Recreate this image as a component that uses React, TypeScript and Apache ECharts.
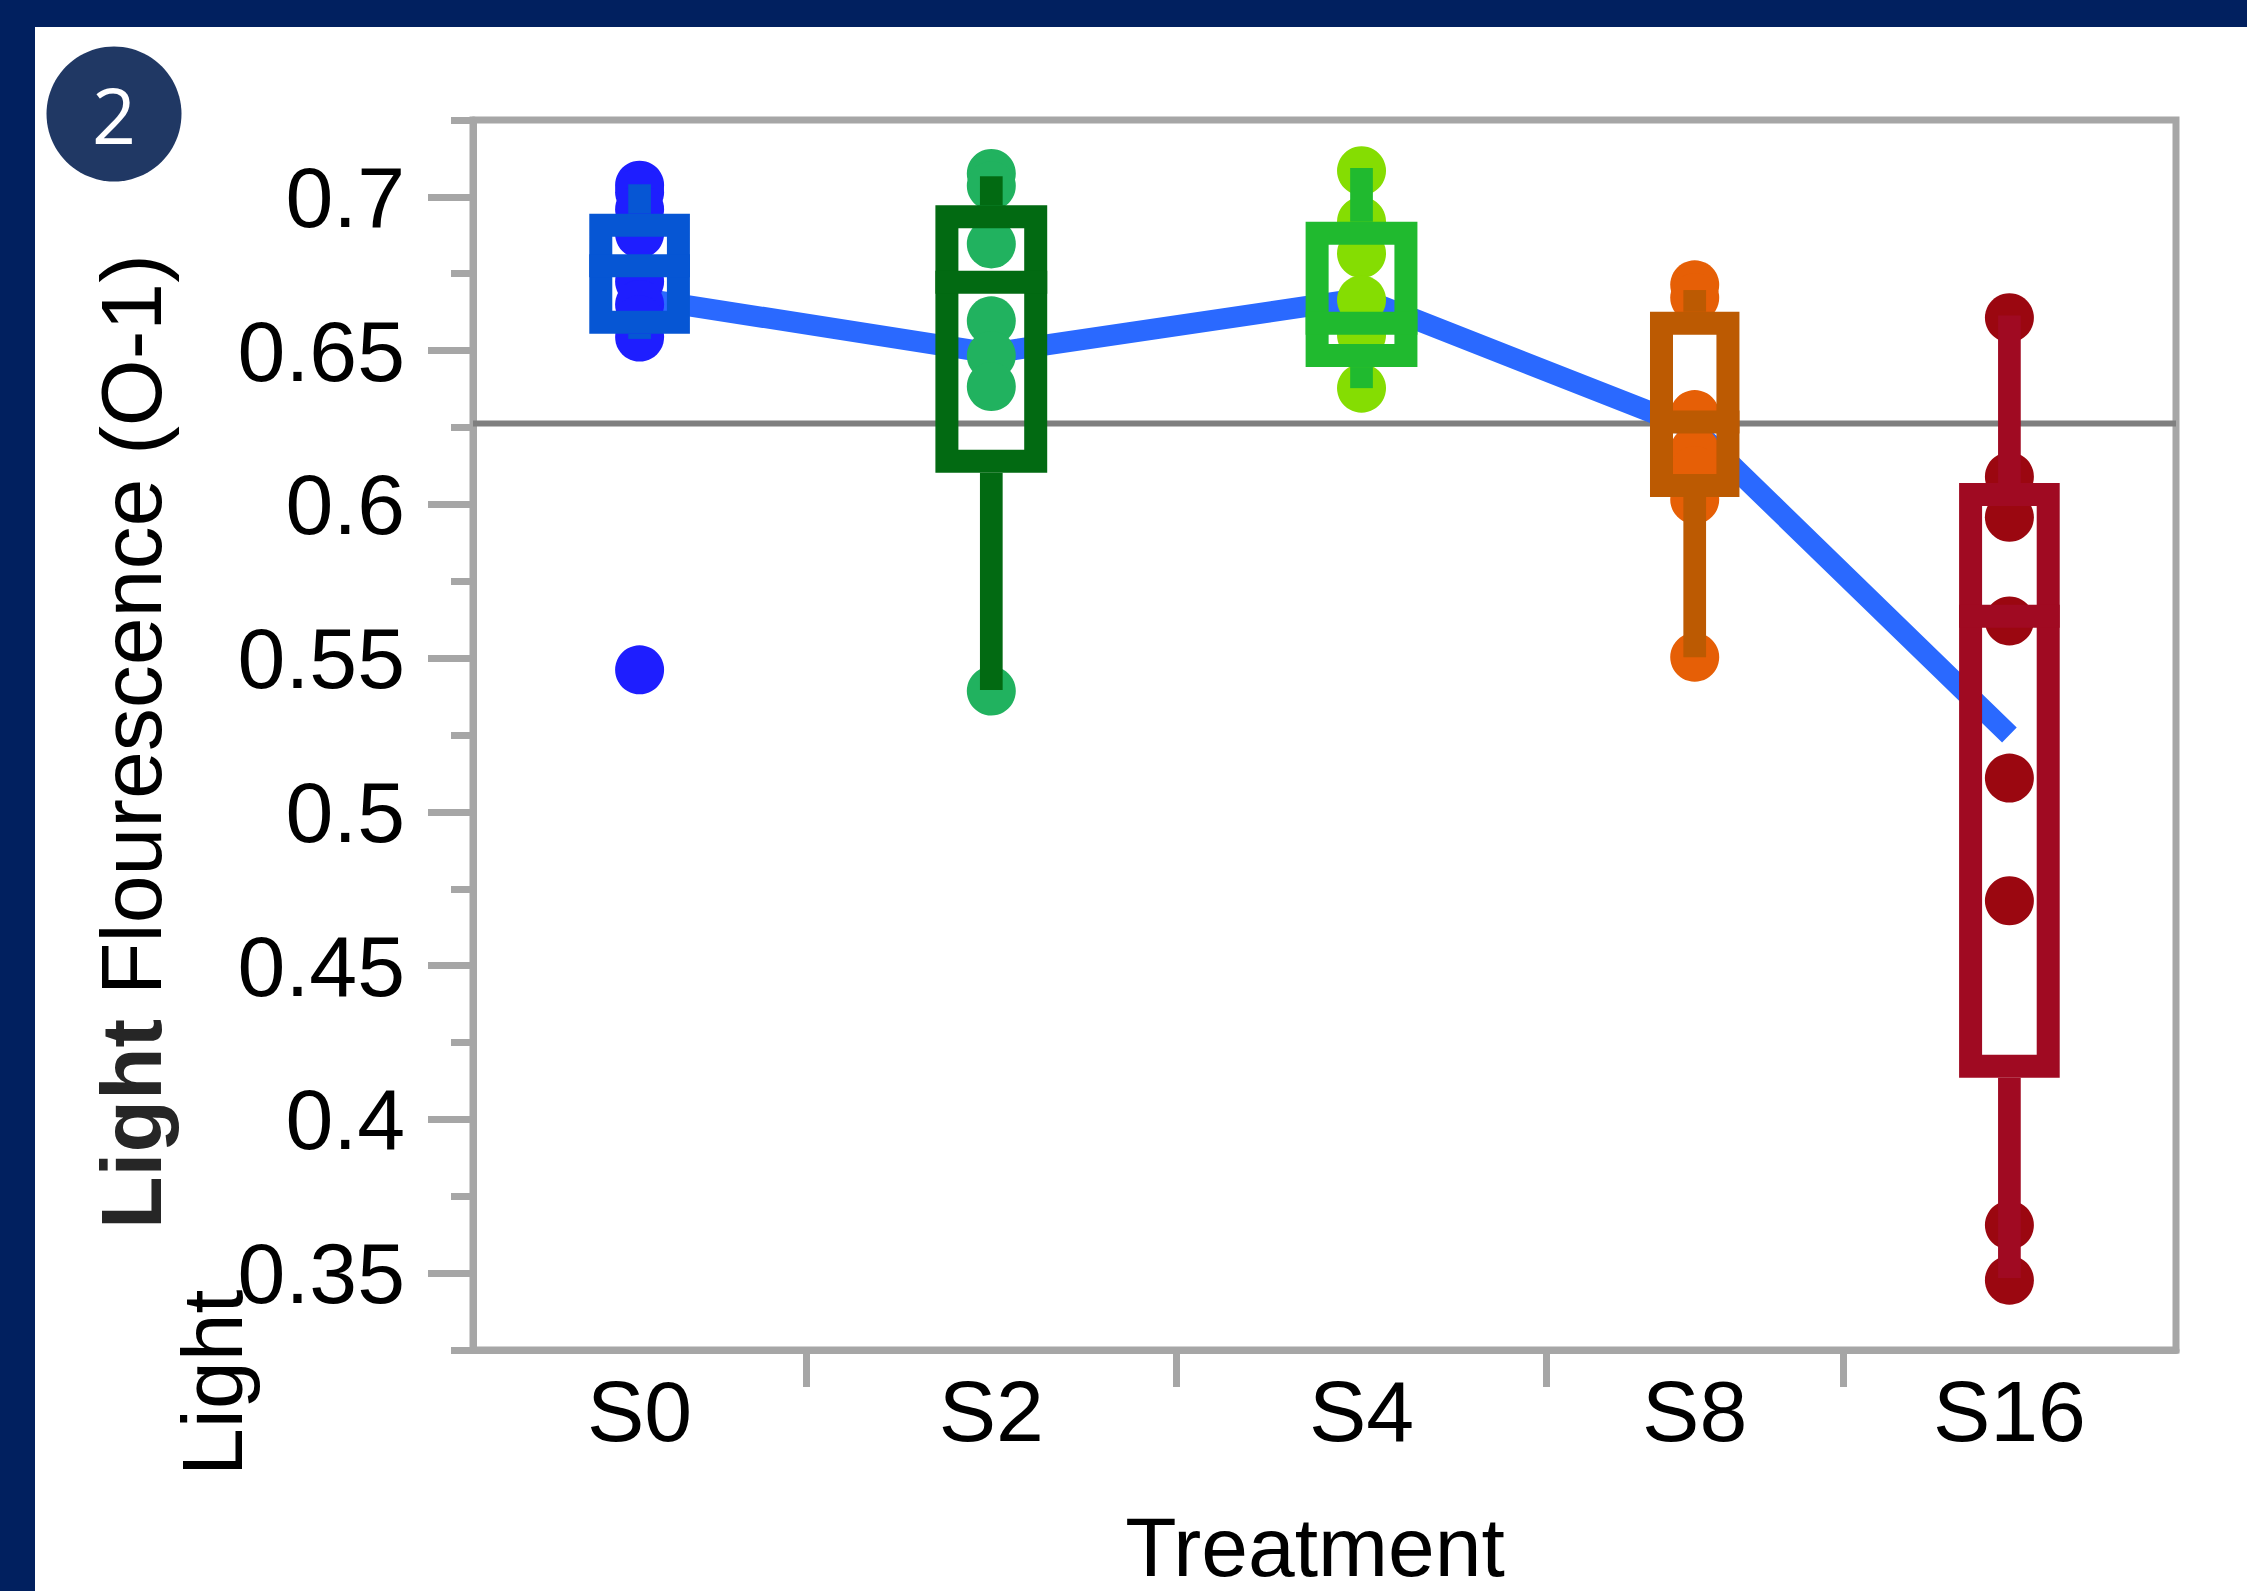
import React, { useEffect, useRef } from "react";
import * as echarts from "echarts";

// ---------- data ----------
const categories = ["S0", "S2", "S4", "S8", "S16"];
const groupSizes = [9, 10, 10, 8, 9];

const pointsS0 = [0.7038, 0.7015, 0.696, 0.688, 0.6725, 0.665, 0.66, 0.6544, 0.5462];
const pointsS2 = [0.7076, 0.7036, 0.6847, 0.6597, 0.6484, 0.6383, 0.5393];
const pointsS4 = [0.7085, 0.692, 0.6816, 0.6665, 0.655, 0.6378];
const pointsS8 = [0.6714, 0.6672, 0.6292, 0.6175, 0.611, 0.6016, 0.5503];
const pointsS16 = [0.6607, 0.609, 0.5958, 0.5621, 0.511, 0.4711, 0.3656, 0.3477];

const quartile1 = [0.6592, 0.614, 0.6484, 0.6061, 0.4173];
const medians = [0.6776, 0.6722, 0.6589, 0.6268, 0.5636];
const quartile3 = [0.6908, 0.6935, 0.6882, 0.6589, 0.6032];
const whiskerLow = [0.6538, 0.5396, 0.6378, 0.5503, 0.3484];
const whiskerHigh = [0.7041, 0.7067, 0.7094, 0.6697, 0.6614];

const groupMeans = [0.6671, 0.6492, 0.667, 0.6244, 0.525];
const grandMean = 0.6263;

const yTickValues = [0.35, 0.4, 0.45, 0.5, 0.55, 0.6, 0.65, 0.7];
const yMin = 0.325;
const yMax = 0.725;

const dotColors = ["#1E1EFF", "#21B25F", "#85DD02", "#E65F06", "#9B0710"];
const boxColors = ["#0656D4", "#026A12", "#20BA2F", "#BC5A02", "#A00A22"];

// ---------- derived from the data ----------
const allPoints = [pointsS0, pointsS2, pointsS4, pointsS8, pointsS16];
const boundaries: number[] = [0];
groupSizes.forEach((n, i) => boundaries.push(boundaries[i] + n));
const total = boundaries[boundaries.length - 1];
const centers = groupSizes.map((n, i) => boundaries[i] + n / 2);
const innerBoundaries = boundaries.slice(1, -1);

const FONT = "'Liberation Sans', Arial, Helvetica, sans-serif";

export default function App() {
  const ref = useRef<HTMLDivElement>(null);

  useEffect(() => {
    if (!ref.current) return;
    const chart = echarts.init(ref.current, null, { renderer: "svg" });

    const boxFrac = 0.302;
    const lw = 23;
    const ww = 22.7;

    const option: any = {
      animation: false,
      backgroundColor: "#ffffff",
      textStyle: { fontFamily: FONT },
      grid: {
        left: 473,
        top: 120,
        width: 1703,
        height: 1230,
        show: true,
        borderColor: "#A6A6A6",
        borderWidth: 7,
        backgroundColor: "transparent",
      },
      xAxis: {
        type: "value",
        min: 0,
        max: total,
        splitLine: { show: false },
        axisLine: { show: true, lineStyle: { color: "#A6A6A6", width: 7 } },
        axisTick: {
          show: true,
          customValues: innerBoundaries,
          length: 37,
          lineStyle: { color: "#A6A6A6", width: 7 },
        },
        axisLabel: {
          show: true,
          customValues: centers,
          margin: 61,
          verticalAlign: "middle",
          fontSize: 86,
          fontFamily: FONT,
          color: "#000",
          formatter: (v: number) => {
            const i = centers.findIndex((c) => Math.abs(c - v) < 1e-6);
            return i >= 0 ? categories[i] : "";
          },
        },
      },
      yAxis: [
        {
          type: "value",
          min: yMin,
          max: yMax,
          position: "left",
          splitLine: { show: false },
          axisLine: { show: true, lineStyle: { color: "#A6A6A6", width: 7 } },
          axisTick: {
            show: true,
            customValues: yTickValues,
            length: 45,
            lineStyle: { color: "#A6A6A6", width: 7 },
          },
          axisLabel: {
            show: true,
            customValues: yTickValues,
            margin: 68,
            fontSize: 86,
            fontFamily: FONT,
            color: "#000",
            formatter: (v: number) => String(+v.toFixed(3)),
          },
        },
        {
          type: "value",
          min: yMin,
          max: yMax,
          interval: 0.025,
          position: "left",
          splitLine: { show: false },
          axisLine: { show: false },
          axisTick: { show: true, length: 22, lineStyle: { color: "#A6A6A6", width: 7 } },
          axisLabel: { show: false },
        },
      ],
      series: [
        {
          type: "line",
          silent: true,
          z: 1,
          symbol: "none",
          data: [
            [0, grandMean],
            [total, grandMean],
          ],
          lineStyle: { color: "#7F7F7F", width: 6 },
        },
        {
          type: "line",
          silent: true,
          z: 2,
          symbol: "none",
          data: centers.map((c, i) => [c, groupMeans[i]]),
          lineStyle: { color: "#2A69FF", width: 21, cap: "butt", join: "miter" },
        },
        ...allPoints.map((pts, i) => ({
          type: "scatter",
          z: 3,
          symbolSize: 49,
          itemStyle: { color: dotColors[i], opacity: 1 },
          data: pts.map((v) => [centers[i], v]),
        })),
        {
          type: "custom",
          z: 4,
          silent: true,
          data: centers.map((c, i) => [
            c,
            quartile1[i],
            medians[i],
            quartile3[i],
            whiskerLow[i],
            whiskerHigh[i],
            groupSizes[i],
            i,
          ]),
          renderItem: (params: any, api: any) => {
            const c = api.value(0);
            const idx = api.value(7);
            const w = api.value(6) * boxFrac;
            const left = api.coord([c - w / 2, yMin])[0];
            const right = api.coord([c + w / 2, yMin])[0];
            const cx = api.coord([c, yMin])[0];
            const yq1 = api.coord([c, api.value(1)])[1];
            const ymed = api.coord([c, api.value(2)])[1];
            const yq3 = api.coord([c, api.value(3)])[1];
            const ylo = api.coord([c, api.value(4)])[1];
            const yhi = api.coord([c, api.value(5)])[1];
            const color = boxColors[idx];
            return {
              type: "group",
              children: [
                {
                  type: "rect",
                  shape: { x: cx - ww / 2, y: yhi, width: ww, height: Math.max(0, yq3 - lw / 2 - yhi) },
                  style: { fill: color },
                },
                {
                  type: "rect",
                  shape: { x: cx - ww / 2, y: yq1 + lw / 2, width: ww, height: Math.max(0, ylo - yq1 - lw / 2) },
                  style: { fill: color },
                },
                {
                  type: "rect",
                  shape: { x: left + lw / 2, y: yq3, width: right - left - lw, height: yq1 - yq3 },
                  style: { fill: "none", stroke: color, lineWidth: lw, lineJoin: "miter" },
                },
                {
                  type: "line",
                  shape: { x1: left, y1: ymed, x2: right, y2: ymed },
                  style: { stroke: color, lineWidth: lw, lineCap: "butt" },
                },
              ],
            };
          },
        },
      ],
      graphic: [
        { type: "rect", z: 100, shape: { x: 0, y: 0, width: 2247, height: 27 }, style: { fill: "#01205F" } },
        { type: "rect", z: 100, shape: { x: 0, y: 0, width: 35, height: 1591 }, style: { fill: "#01205F" } },
        { type: "circle", z: 100, shape: { cx: 114, cy: 114, r: 67.5 }, style: { fill: "#203864" } },
        {
          type: "text",
          z: 101,
          x: 114,
          y: 114,
          style: {
            text: "2",
            fill: "#ffffff",
            fontSize: 77,
            fontFamily: "'Open Sans', 'Noto Sans', sans-serif",
            textAlign: "center",
            textVerticalAlign: "middle",
          },
        },
        {
          type: "text",
          z: 100,
          x: 131,
          y: 1229,
          rotation: Math.PI / 2,
          style: {
            text: "{b|Light} {r|Flourescence (O-1)}",
            textAlign: "left",
            textVerticalAlign: "middle",
            rich: {
              b: { fontSize: 86, fontWeight: "bold", fontFamily: FONT, fill: "#262626", color: "#262626" },
              r: { fontSize: 86, fontFamily: FONT, fill: "#000", color: "#000" },
            },
            fontSize: 86,
            fontFamily: FONT,
          },
        },
        {
          type: "text",
          z: 100,
          x: 212,
          y: 1476,
          rotation: Math.PI / 2,
          style: {
            text: "Light",
            fill: "#000",
            fontSize: 86,
            fontFamily: FONT,
            textAlign: "left",
            textVerticalAlign: "middle",
          },
        },
        {
          type: "text",
          z: 100,
          x: 1315,
          y: 1589,
          style: {
            text: "Treatment",
            fill: "#000",
            fontSize: 84,
            fontFamily: FONT,
            textAlign: "center",
            textVerticalAlign: "bottom",
          },
        },
      ],
    };

    chart.setOption(option);
    return () => chart.dispose();
  }, []);

  return (
    <div
      ref={ref}
      style={{ position: "absolute", left: 0, top: 0, width: 2247, height: 1591, background: "#fff" }}
    />
  );
}
